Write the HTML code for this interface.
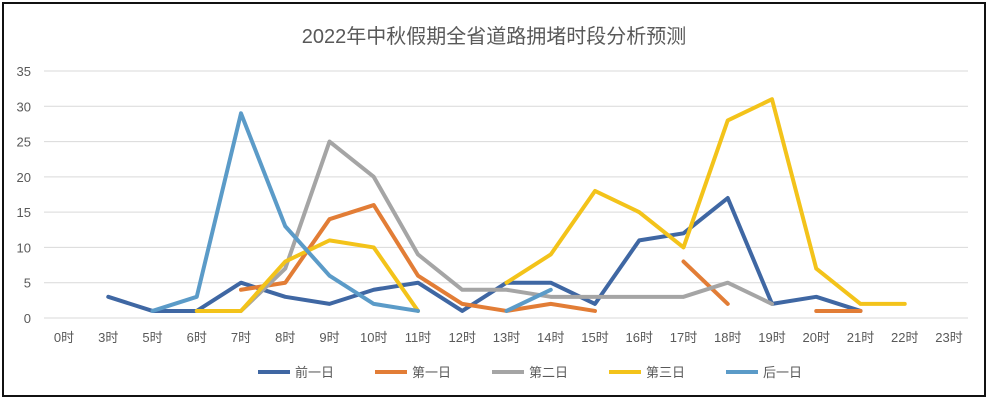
<!DOCTYPE html>
<html><head><meta charset="utf-8"><style>
body{margin:0;background:#fff;width:988px;height:400px;overflow:hidden;font-family:"Liberation Sans","Noto Sans CJK SC",sans-serif}
#frame{position:absolute;left:2px;top:2px;width:980px;height:391px;border:2px solid #111}
svg{position:absolute;left:0;top:0}
text{font-family:"Liberation Sans","Noto Sans CJK SC",sans-serif;fill:#595959}
</style></head><body>
<div id="frame"></div>
<svg id="chart" width="988" height="400"></svg>
<script>
const categories=["0时","3时","5时","6时","7时","8时","9时","10时","11时","12时","13时","14时","15时","16时","17时","18时","19时","20时","21时","22时","23时"];
const yTicks=[0,5,10,15,20,25,30,35];
const seriesNames=["前一日","第一日","第二日","第三日","后一日"];
const seriesColors=["#3F67A3","#E27D36","#A5A5A5","#F3C31A","#5B9BC8"];
const s1=[null,3,1,1,5,3,2,4,5,1,5,5,2,11,12,17,2,3,1,null,null];
const s2=[null,null,null,null,4,5,14,16,6,2,1,2,1,null,8,2,null,1,1,null,null];
const s3=[null,null,null,null,1,7,25,20,9,4,4,3,3,3,3,5,2,null,null,null,null];
const s4=[null,null,null,1,1,8,11,10,1,null,5,9,18,15,10,28,31,7,2,2,null];
const s5=[null,null,1,3,29,13,6,2,1,null,1,4,null,null,null,null,null,null,null,null,null];
const allSeries=[s1,s2,s3,s4,s5];
const NS="http://www.w3.org/2000/svg";
const svg=document.getElementById('chart');
const x0=64,x1=949,yBase=318,yTop=71,gl=44,gr=968;
const xs=i=>x0+(x1-x0)*i/(categories.length-1);
const ys=v=>yBase-(yBase-yTop)*v/35;
function mk(t,a){const e=document.createElementNS(NS,t);for(const k in a)e.setAttribute(k,a[k]);svg.appendChild(e);return e;}
const title=mk('text',{x:494,y:43,'text-anchor':'middle','font-size':20});
title.textContent="2022年中秋假期全省道路拥堵时段分析预测";


yTicks.forEach(v=>{
 const l=mk('line',{x1:gl,x2:gr,y1:ys(v),y2:ys(v),stroke:'#D9D9D9','stroke-width':1});
 
 
 const t=mk('text',{x:31,y:ys(v)+5,'text-anchor':'end','font-size':13});
 t.textContent=v;
 
 
});
categories.forEach((c,i)=>{
 const t=mk('text',{x:xs(i),y:342,'text-anchor':'middle','font-size':13});
 t.textContent=c;
 
 
});
allSeries.forEach((s,k)=>{
 let segs=[],cur=[];
 s.forEach((v,i)=>{if(v==null){if(cur.length)segs.push(cur);cur=[];}else cur.push(xs(i)+','+ys(v));});
 if(cur.length)segs.push(cur);
 segs.forEach(sg=>{
  const p=mk('polyline',{points:sg.join(' '),fill:'none',stroke:seriesColors[k],'stroke-width':4,'stroke-linejoin':'round','stroke-linecap':'round'});
  
  
 });
});
const lx=[258,375,492,609,726];
seriesNames.forEach((n,k)=>{
 const l=mk('line',{x1:lx[k],x2:lx[k]+32,y1:372,y2:372,stroke:seriesColors[k],'stroke-width':4});
 
 
 const t=mk('text',{x:lx[k]+37,y:377,'font-size':13});
 t.textContent=n;
 
 
});
</script>
</body></html>
